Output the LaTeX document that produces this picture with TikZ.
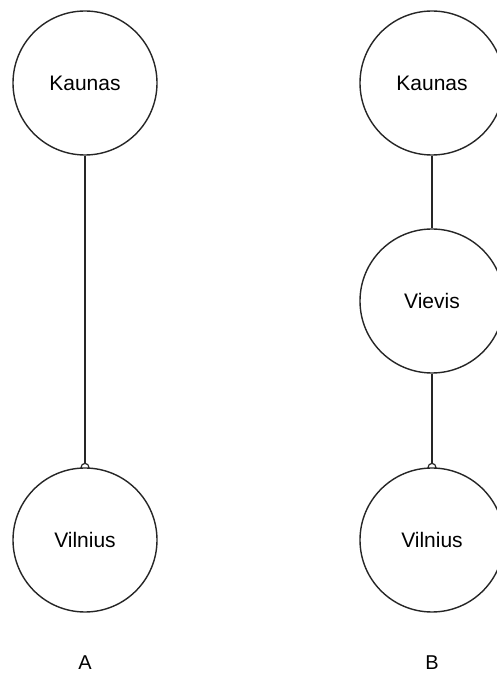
\documentclass[tikz,border=0pt]{standalone}
\usepackage{fontspec}
\setmainfont{Liberation Sans}
\usetikzlibrary{positioning,arrows.meta,backgrounds}

\tikzset{
  town/.style={circle, draw=black!85, line width=1.4pt, fill=white,
    minimum size=144pt, inner sep=0pt, font=\fontsize{21}{24}\selectfont},
  road/.style={draw=black!85, line width=1.3pt,
    -{Circle[open, length=9pt, line width=1.2pt]}, shorten >=-4.5pt},
  caption/.style={font=\fontsize{20}{24}\selectfont}
}

\begin{document}
\begin{tikzpicture}[x=1pt, y=1pt]

  % --- Rahmen ---
  \useasboundingbox (0,0) rectangle (497,675);

  % --- Variante A ---
  \node[town] (kaunasA)  at (85,592) {Kaunas};
  \node[town] (vilniusA) at (85,135) {Vilnius};
  \node[caption] (labelA) at (85,12) {A};

  % --- Variante B ---
  \node[town] (kaunasB)  at (432,592) {Kaunas};
  \node[town] (vievis)   at (432,374) {Vievis};
  \node[town] (vilniusB) at (432,135) {Vilnius};
  \node[caption] (labelB) at (432,12) {B};

  % --- Verbindungen ---
  \begin{scope}[on background layer]
    \draw[road] (kaunasA) -- (vilniusA);
    \draw[draw=black!85, line width=1.3pt] (kaunasB) -- (vievis);
    \draw[road] (vievis) -- (vilniusB);
  \end{scope}

\end{tikzpicture}
\end{document}
